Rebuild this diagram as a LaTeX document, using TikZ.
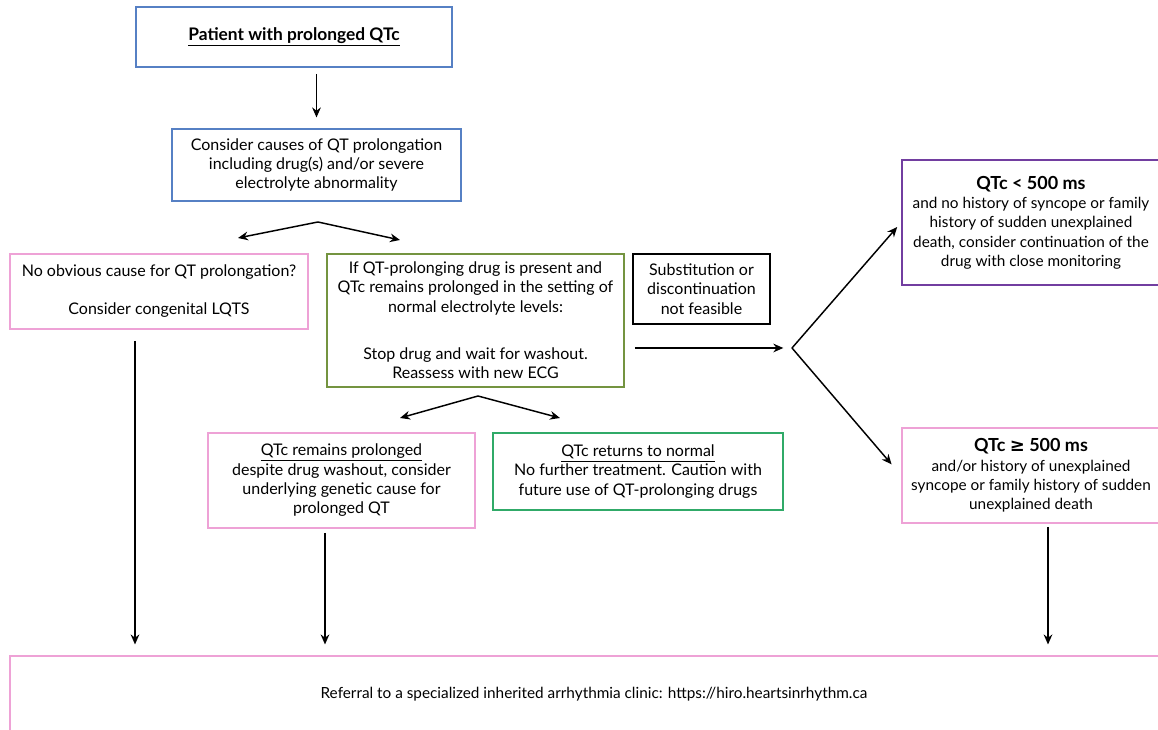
\documentclass[tikz,border=0pt]{standalone}
\usepackage{fontspec}
\setmainfont{Lato}
\newfontfamily\symbolfont{DejaVu Sans}
\usetikzlibrary{arrows.meta}

\definecolor{boxblue}{RGB}{86,128,196}
\definecolor{boxpink}{RGB}{238,162,214}
\definecolor{boxolive}{RGB}{116,148,64}
\definecolor{boxgreen}{RGB}{48,170,104}
\definecolor{boxpurple}{RGB}{114,62,160}

\tikzset{
  box/.style={draw, line width=1.3pt, align=center, inner sep=1pt,
    font=\fontsize{12}{14.5}\selectfont},
  sidebox/.style={box, minimum width=193.5pt, font=\fontsize{11.5}{14.5}\selectfont},
  arr/.style={-{Stealth[length=7.5pt,width=6.5pt]}, line width=1.1pt},
}

\begin{document}
\begin{tikzpicture}[x=0.75pt, y=-0.75pt]
        % Frame
        \useasboundingbox (0,0) rectangle (1158,730);
        \clip (0,0) rectangle (1158,730);
        \fill[white] (0,0) rectangle (1158,730);

        % Top boxes
        \node[box, draw=boxblue, minimum width=237pt, minimum height=45pt, font=\fontsize{13}{15}\selectfont] (patient) at (294,37) {\underline{\textbf{Patient with prolonged QTc}}};
        \node[box, draw=boxblue, minimum width=216.75pt, minimum height=54pt] (causes) at (316.5,165) {Consider causes of QT prolongation\\including drug(s) and/or severe\\electrolyte abnormality};

        % Second row
        \node[box, draw=boxpink, minimum width=223.5pt, minimum height=56.25pt] (nocause) at (159,291.5) {No obvious cause for QT prolongation?\\[14pt]Consider congenital LQTS};
        \node[box, draw=boxolive, minimum width=222.75pt, minimum height=99.75pt] (drug) at (475.5,320.5) {If QT-prolonging drug is present and\\QTc remains prolonged in the setting of\\normal electrolyte levels:\\[21pt]Stop drug and wait for washout.\\Reassess with new ECG};
        \node[box, draw=black, minimum width=102.75pt, minimum height=52.5pt] (subst) at (701.5,289) {Substitution or\\discontinuation\\not feasible};

        % Right side
        \node[sidebox, draw=boxpurple, minimum height=93.75pt] (low) at (1031,222.5) {{\fontsize{13.5}{15}\selectfont\textbf{QTc < 500 ms}}\\and no history of syncope or family\\history of sudden unexplained\\death, consider continuation of the\\drug with close monitoring};
        \node[sidebox, draw=boxpink, minimum height=71.25pt] (high) at (1031,475.5) {{\fontsize{13.5}{15}\selectfont\textbf{QTc {\symbolfont ≥} 500 ms}}\\and/or history of unexplained\\syncope or family history of sudden\\unexplained death};

        % After washout
        \node[box, draw=boxpink, minimum width=200.25pt, minimum height=71.25pt] (remains) at (341.5,480.5) {\underline{QTc remains prolonged}\\despite drug washout, consider\\underlying genetic cause for\\prolonged QT};
        \node[box, draw=boxgreen, minimum width=217.5pt, minimum height=57.75pt] (normal) at (638,471.5) {\underline{QTc returns to normal}\\No further treatment. Caution with\\future use of QT-prolonging drugs};

        % Referral
        \node[box, draw=boxpink, minimum width=876pt, minimum height=57pt, font=\fontsize{11.5}{13}\selectfont] (referral) at (594,694) {Referral to a specialized inherited arrhythmia clinic: https://hiro.heartsinrhythm.ca};

        % Split points
        \coordinate (fork1) at (318,222);
        \coordinate (left1) at (238,238);
        \coordinate (right1) at (400,240);
        \coordinate (fork2) at (478,396);
        \coordinate (left2) at (400,418);
        \coordinate (right2) at (560,418);
        \coordinate (fork3) at (792,348);
        \coordinate (drop1) at (135,341);
        \coordinate (drop2) at (325,533);
        \coordinate (drop3) at (1048,527);

        % Arrows
        \draw[arr, shorten <=4.5pt, shorten >=8pt] (patient.south -| causes.north) -- (causes.north);
        \draw[arr] (fork1) -- (left1);
        \draw[arr] (fork1) -- (right1);
        \draw[arr] (fork2) -- (left2);
        \draw[arr] (fork2) -- (right2);
        \draw[arr, shorten <=7.5pt, shorten >=6.5pt] (drug.east |- fork3) -- (fork3);
        \draw[arr, shorten >=4.5pt] (fork3) -- (low.west);
        \draw[arr, shorten >=11pt] (fork3) -- (high.west);
        \draw[arr, shorten >=8pt] (drop1) -- (drop1 |- referral.north);
        \draw[arr, shorten >=8pt] (drop2) -- (drop2 |- referral.north);
        \draw[arr, shorten >=8pt] (drop3) -- (drop3 |- referral.north);
    \end{tikzpicture}
\end{document}
